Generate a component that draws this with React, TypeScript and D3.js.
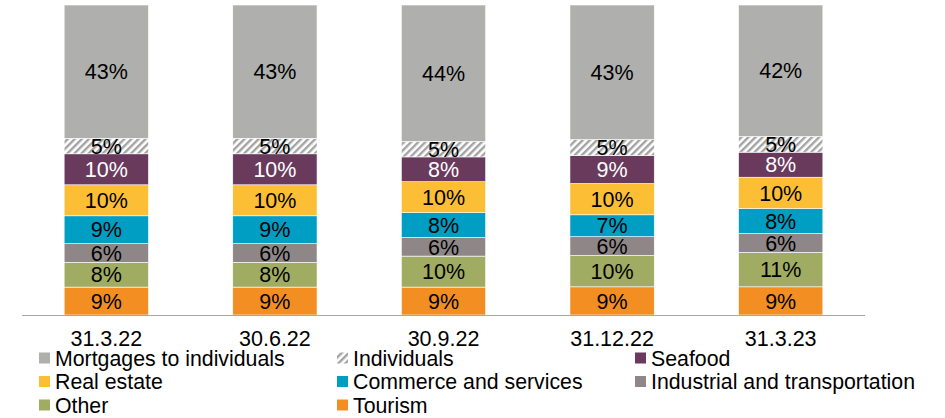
import * as React from 'react';
import * as d3 from 'd3';

// bar categories (x axis)
const dates = ['31.3.22', '30.6.22', '30.9.22', '31.12.22', '31.3.23'];

// series, bottom to top of each stack
const seriesNames = [
  'Tourism',
  'Other',
  'Industrial and transportation',
  'Commerce and services',
  'Real estate',
  'Seafood',
  'Individuals',
  'Mortgages to individuals',
];

const tourism = [9, 9, 9, 9, 9];
const other = [8, 8, 10, 10, 11];
const industrial = [6, 6, 6, 6, 6];
const commerce = [9, 9, 8, 7, 8];
const realEstate = [10, 10, 10, 10, 10];
const seafood = [10, 10, 8, 9, 8];
const individuals = [5, 5, 5, 5, 5];
const mortgages = [43, 43, 44, 43, 42];

const seriesValues = [tourism, other, industrial, commerce, realEstate, seafood, individuals, mortgages];

// legend order, read left to right, row by row
const legendOrder = [
  'Mortgages to individuals', 'Individuals', 'Seafood',
  'Real estate', 'Commerce and services', 'Industrial and transportation',
  'Other', 'Tourism',
];

const colors: Record<string, string> = {
  'Tourism': '#f38f22',
  'Other': '#a0ac62',
  'Industrial and transportation': '#8f8787',
  'Commerce and services': '#009ec3',
  'Real estate': '#fbbe35',
  'Seafood': '#6a3a5d',
  'Individuals': 'url(#hatch)',
  'Mortgages to individuals': '#afb0ad',
};

const width = 945, height = 418;
const font = '"Liberation Sans", Arial, sans-serif';

export default function App() {
  const rows = dates.map((d, i) => {
    const r: any = { date: d };
    seriesNames.forEach((s, j) => { r[s] = seriesValues[j][i]; });
    return r;
  });

  const stack = d3.stack<any>().keys(seriesNames).offset(d3.stackOffsetExpand);
  const layers = stack(rows);

  const x = d3.scaleBand().domain(dates).range([22, 865]).paddingInner(0.5).paddingOuter(0.25);
  const y = d3.scaleLinear().domain([0, 1]).range([315, 5]);

  return (
    <svg width={width} height={height} style={{ position: 'absolute', left: 0, top: 0, fontFamily: font }}>
      <defs>
        <pattern id="hatch" width="5" height="5" patternUnits="userSpaceOnUse" patternTransform="rotate(45)">
          <rect width="5" height="5" fill="#ffffff" />
          <rect width="2.4" height="5" fill="#a3a3a3" />
        </pattern>
      </defs>
      {layers.map((layer, li) => (
        <g key={layer.key}>
          {layer.map((d, i) => {
            const x0 = x(dates[i])!;
            const y0 = y(d[1]);
            const h = y(d[0]) - y(d[1]);
            const value = seriesValues[li][i];
            return (
              <g key={i}>
                <rect x={x0} y={y0} width={x.bandwidth()} height={h}
                  fill={colors[layer.key]} stroke="#ffffff" strokeWidth={0.6} />
                <text x={x0 + x.bandwidth() / 2} y={y0 + h / 2} dy="0.36em" textAnchor="middle"
                  fontSize={21.5} fill={layer.key === 'Seafood' ? '#ffffff' : '#000000'}>
                  {value}%
                </text>
              </g>
            );
          })}
        </g>
      ))}
      <line x1={22} x2={865} y1={315.5} y2={315.5} stroke="#a6a6a6" strokeWidth={1} />
      {dates.map(d => (
        <text key={d} x={x(d)! + x.bandwidth() / 2} y={346} textAnchor="middle" fontSize={21.5} fill="#000">
          {d}
        </text>
      ))}
      {legendOrder.map((s, i) => {
        const col = i % 3, row = Math.floor(i / 3);
        const lx = [39, 337, 635][col];
        const ly = 358 + row * 23.5;
        return (
          <g key={s}>
            <rect x={lx} y={ly - 5.5} width={11} height={11} fill={colors[s]} />
            <text x={lx + 16} y={ly} dy="0.36em" fontSize={21.3} fill="#000">{s}</text>
          </g>
        );
      })}
    </svg>
  );
}
